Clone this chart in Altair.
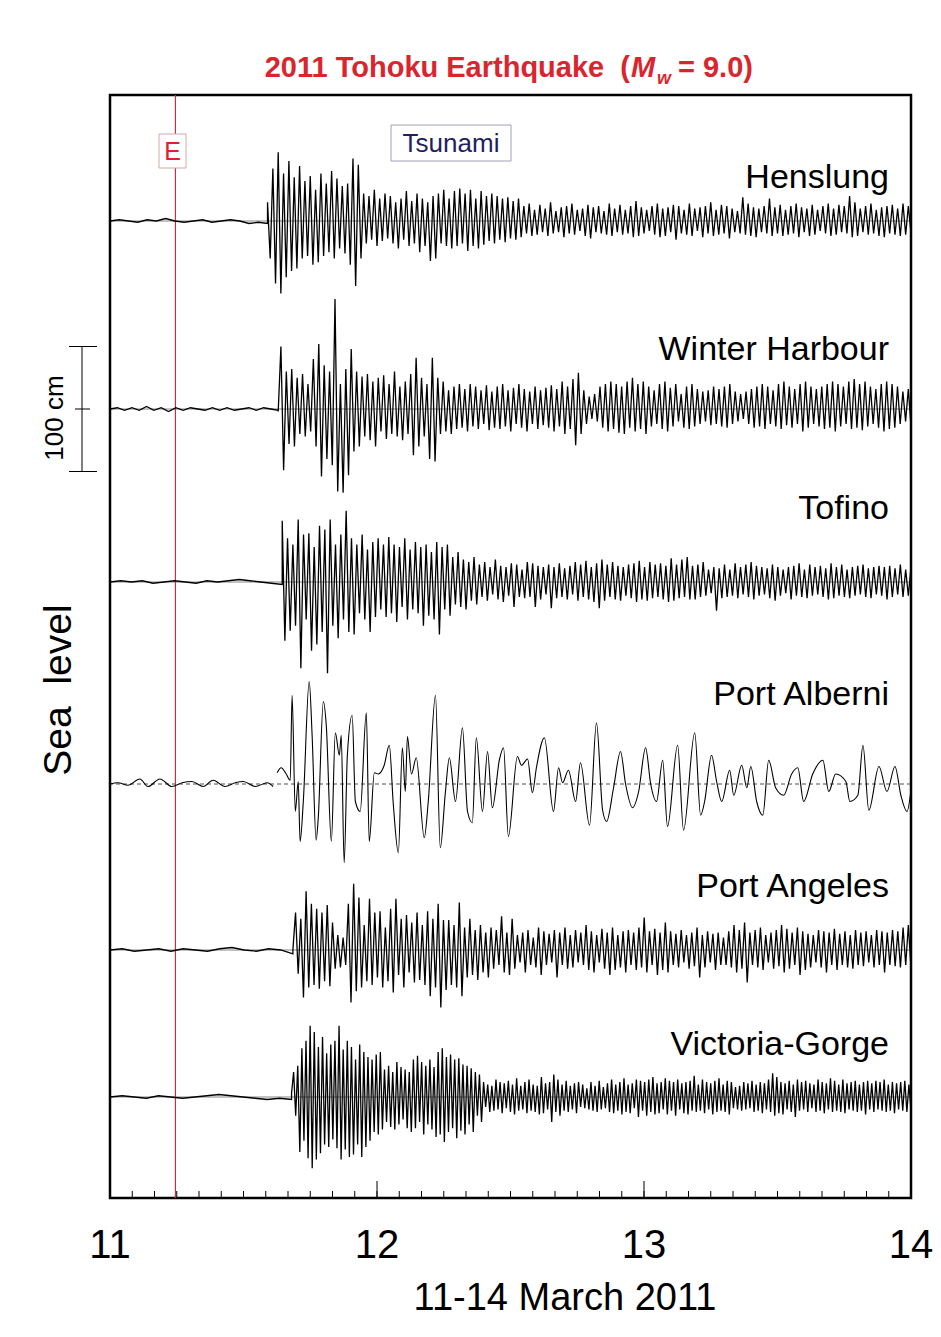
import altair as alt
import numpy as np
import pandas as pd

FONT = "Liberation Sans, Arial, Helvetica, sans-serif"
NB = "\u00a0"

# ---------------- data ----------------
stations = ["Henslung", "Winter Harbour", "Tofino", "Port Alberni", "Port Angeles", "Victoria-Gorge"]
baseline_cm = [781.6, 631.2, 492.8, 331.2, 198.4, 80.8]      # vertical offset of each record (cm)
arrival_day = [11.59, 11.63, 11.645, 11.626, 11.685, 11.68]  # first tsunami wave
event_day = 11.245                                           # earthquake origin time "E"
major_ticks = [11, 12, 13, 14]
minor_ticks = [11 + k / 12 for k in range(37)]

henslung_pre = [0, 1, 0, -1, 1, 0, 2, 0, -1, 0, 1, -1, 0, 1, 0, -2, -1, -2]
henslung_wave = [
    15, -30, 42, -50, 55, -58, 38, -45, 48, -40, 35, -38, 44,
    -30, 32, -28, 36, -35, 25, -33, 38, -28, 30, -25, 40, -30, 34, -22, 28, -26,
    30, -35, 50, -52, 45, -30,
    22, -18, 20, -15, 25, -20, 18, -16, 22, -14, 20, -18, 15, -22, 18, -15, 24, -20, 16, -18,
    22, -25, 18, -20, 15, -32, 20, -30, 22, -18, 25, -20, 18,
    -22, 24, -20, 26, -18, 22, -24, 25, -20, 18, -22, 24, -19, 20, -16, 22, -18, 20, -15, 18,
    -17, 19, -14, 16, -15, 18, -13,
    12, -10, 14, -12, 9, -11, 13, -9, 10, -12, 15, -10, 8, -9, 11, -13, 12, -10, 14, -11,
    9, -8, 10, -12, 13, -14, 11, -9, 12, -10, 8, -11, 14, -12, 10, -9, 13, -11, 9, -10,
    12, -13, 16, -12, 11, -10, 9, -8, 12, -11, 14, -13, 10, -12, 11, -9, 13, -15, 12, -10,
    9, -11, 14, -12, 10, -8, 11, -13, 12, -10, 15, -12, 9, -11, 13, -10, 12, -14, 10, -9,
    8, -10, 19, -11, 14, -12, 11, -13, 10, -9, 12, -10, 18, -12, 11, -10, 13, -12, 9, -11,
    12, -10, 14, -13, 11, -9, 10, -12, 13, -11, 9, -8, 12, -10, 14, -12, 10, -11, 13, -9,
    12, -10, 20, -13, 15, -12, 10, -9, 12, -11, 14, -10, 9, -12, 11, -13, 12, -10, 13, -11,
    10, -12, 14, -11, 12, -10,
]

winter_pre = [0, 1, -1, 1, -1, 2, -1, 1, -2, 1, -1, 1, 0, -1, 1, -1, 1, -1, 0, 1, -1, 1, 0, -1]
winter_wave = [
    -2, 50, -49, 30, -28, 32, -30, 25, -20, 28, -22,
    20, -18, 40, -30, 52, -54, 35, -40, 30, -45,
    88, -66, 20, -67, 32, -53, 48, -34, 30, -30,
    26, -22, 28, -25, 22, -30, 25, -18, 27, -24, 20, -20, 30, -22, 18, -25, 22, -20, 28, -37,
    41, -30, 25, -22, 20, -40, 41, -42, 25, -20, 22, -18, 15, -20, 18, -16, 20, -15,
    16, -18, 20, -14, 18, -16, 15, -12, 19, -17, 14, -15, 18, -16, 20, -14, 15, -18, 17, -12,
    20, -15, 16, -18, 14, -12, 18, -16, 15, -13, 17, -15, 19, -18, 16, -14, 22, -20, 18, -16,
    24, -29, 29, -20, 15,
    -12, 10, -8, 12, -10, 18, -15, 20, -18, 22, -16, 20, -19, 18, -20, 22, -15, 25, -18, 20,
    -16, 22, -20, 18, -14, 15, -12, 20, -16, 22, -18, 17, -14, 20, -10, 12, -15, 18, -16, 20,
    -14, 16, -12, 14, -10, 15, -13, 18, -12, 16, -14, 18, -15, 20, -12, 14, -10, 12, -8, 14,
    -12, 16, -15, 18, -14, 20, -16, 18, -12, 15, -14, 20, -16, 22, -13, 18, -15, 16, -12, 20,
    -18, 22, -15, 18, -12, 16, -14, 18, -16, 20, -15, 22, -18, 20, -14, 18, -12, 22, -16, 24,
    -15, 20, -17, 22, -14, 18, -12, 16, -15, 20, -18, 22, -16, 20, -15, 18, -12, 14, -10, 16,
    -14,
]

tofino_pre = [0, 1, 0, 1, -1, 0, 1, 0, -1, 1, 0, 1, 2, 1, 0, -1, -2]
tofino_wave = [
    49, -47, 35, -39, 30, -35, 50, -69, 38, -30, 39, -55, 28, -50, 45, -40, 42, -73, 50, -35,
    30, -45, 38, -30, 57, -40,
    35, -42, 30, -25, 38, -30, 26, -40, 32, -28, 35, -22, 30,
    -28, 36, -25, 30, -32, 28, -20, 35, -30, 26, -22, 32, -25, 28, -35, 30, -27, 24, -30, 32,
    -42, 28, -22, 30, -27, 20, -18, 24, -20, 18, -22, 16, -15, 20, -18,
    14, -12, 16, -15, 12, -10, 18, -14, 13, -16, 12, -11, 15, -20, 14, -12, 10, -13, 16, -12,
    15, -20, 13, -14, 12, -10, 14, -21, 12, -13, 15, -12, 11, -14, 13, -10, 16, -15, 14, -12,
    17, -14, 12, -16, 15, -21, 18, -15, 14, -12, 16, -14, 13, -15, 12, -11, 14, -13, 15, -16,
    17, -14, 12, -15, 16, -13, 14, -12, 15, -14, 13, -16, 19, -15, 14, -13, 18, -12, 20, -14,
    13, -14, 14, -12, 16, -11, 10, -9, 12, -23, 11, -13, 14, -12, 10, -11, 15, -13, 12, -10,
    14, -12, 16, -14, 13, -11, 12, -10, 11, -13, 14, -15, 12, -11, 10, -9, 12, -14, 13, -11,
    15, -12, 10, -13, 14, -11, 12, -10, 13, -12, 11, -14, 15, -13, 12, -11, 14, -12, 10, -13,
    12, -11, 13, -10, 14, -12, 11, -13, 12, -10, 13, -11, 12, -14, 13, -12, 11, -10, 14, -12,
    10, -11, 12,
]

alberni_pre_t = [11.000, 11.030, 11.067, 11.112, 11.142, 11.187, 11.232, 11.270, 11.307,
                 11.349, 11.386, 11.431, 11.469, 11.499, 11.544, 11.589, 11.611]
alberni_pre = [0, 1, -1, 4, -2, 4, -2, 1, 2, -2, 3, -2, 1, 2, -2, 1, -2]
alberni_t = [
    11.626, 11.641, 11.660, 11.675, 11.682, 11.694, 11.705, 11.712, 11.724, 11.746,
    11.757, 11.772, 11.780, 11.799, 11.810, 11.829, 11.844, 11.859, 11.866, 11.877,
    11.889, 11.907, 11.919, 11.937, 11.960, 11.971, 11.990, 12.005, 12.027, 12.046,
    12.061, 12.080, 12.095, 12.106, 12.114, 12.129, 12.147, 12.177, 12.192, 12.219,
    12.237, 12.256, 12.271, 12.294, 12.320, 12.339, 12.357, 12.372, 12.395, 12.414,
    12.432, 12.459, 12.474, 12.492, 12.526, 12.541, 12.564, 12.582, 12.597, 12.627,
    12.661, 12.680, 12.695, 12.717, 12.744, 12.762, 12.796, 12.822, 12.845, 12.860,
    12.886, 12.912, 12.931, 12.957, 12.980, 13.006, 13.025, 13.047, 13.070, 13.088,
    13.126, 13.148, 13.190, 13.212, 13.227, 13.253, 13.272, 13.291, 13.321, 13.336,
    13.366, 13.385, 13.400, 13.422, 13.445, 13.467, 13.493, 13.523, 13.553, 13.576,
    13.598, 13.632, 13.670, 13.692, 13.718, 13.756, 13.771, 13.801, 13.820, 13.842,
    13.880, 13.910, 13.940, 13.962, 13.985, 14.000,
]
alberni_wave = [
    9, 13, 8, 3, 71, -22, 2, -46, -14, 82,
    39, -45, -27, 66, 47, -46, 41, 23, 39, -63,
    23, 55, -14, -22, 57, -46, 9, 8, 15, 31,
    -16, -55, 29, -6, 38, 8, 21, -43, -14, 71,
    -51, -7, 21, -14, 45, -22, -31, 37, -22, 26,
    -19, 20, 29, -42, 22, 15, 20, -7, 13, 37,
    -22, 13, 1, 11, -14, 17, -33, 49, -21, -30,
    -3, 26, 0, -19, -6, 29, 0, -14, 19, -34,
    31, -37, 41, -25, -14, 23, 2, -14, 11, -9,
    15, -3, 14, -14, -25, 19, -3, -9, 8, 13,
    -14, 8, 19, -6, 8, 2, -14, -9, 31, -21,
    14, -6, 14, -9, -22, -5,
]

angeles_pre = [0, 1, -1, 0, 1, -1, 1, 0, -1, 1, 2, 0, -1, 1, 0, -3]
angeles_wave = [
    0, 30, -19, 25, -38, 47,
    -30, 37, -28, 33, -31, 30, -25, 36, -29, 22, -15, 12, -14, 10, -12,
    37, -42, 53, -33, 42, -30, 20, -25, 41, -28, 30, -22, 31, -30, 18, -25, 33, -34, 41, -20,
    25, -30, 28, -18, 22, -26, 30, -24, 20, -28,
    31, -37, 25, -30, 37, -46, 24, -32, 24, -28, 20, -30, 38, -37, 18, -22, 25, -20, 16, -24,
    20, -18, 14, -22, 18, -15,
    16, -12, 27, -18, 14, -20, 25, -15, 12, -10, 14, -18, 16, -12, 10, -14, 18, -20, 15, -12,
    13, -10, 16, -22, 14, -12, 18, -15, 12, -14, 16, -10, 14, -12, 20, -16, 15, -18, 12, -10,
    17, -15, 14, -20, 18, -16, 12, -14, 15, -18, 16, -12, 14, -16, 18, -14, 26, -18, 15, -12,
    17, -20, 14, -16, 22, -18, 15, -12, 13, -14, 16, -10, 12, -15, 14, -13, 18, -22, 12, -14,
    15, -10, 13, -16, 14, -12, 10, -12, 15, -14, 20, -18, 16, -15, 22, -26, 14, -12, 16, -14,
    18, -16, 12, -10, 14, -15, 16, -13, 20, -18, 17, -15, 14, -12, 18, -20, 15, -16, 13, -14,
    12, -10, 16, -14, 15, -18, 14, -12, 17, -16, 13, -12, 15, -14, 12, -15, 16, -12, 14, -13,
    15, -10, 12, -14, 16, -12, 15, -18, 14, -12, 16, -13, 15, -14, 18, -12, 20, -15,
]

victoria_pre = [0, 1, 0, -1, 1, 0, -1, 0, 1, 2, 1, 0, -1, -2, -1, -2]
victoria_wave = [
    3, 20, -15, 25, -44,
    39, -35, 45, -49, 57, -57, 52, -50, 40, -45, 48, -38, 35, -40, 42, -34, 45, -41, 57, -50,
    38, -42, 45, -48, 40, -46, 30, -38, 42, -48, 36, -40, 32, -35, 30, -28, 34, -30, 36, -26,
    22, -20, 25, -24, 20, -26, 28, -22, 24, -18, 22, -25, 20,
    -28, 30, -25, 33, -20, 28, -30, 25, -22, 30, -26, 24, -32, 36, -30, 39, -36, 32, -28, 34,
    -25, 30, -33, 31, -27, 26, -30, 25, -22, 23, -28, 20, -15, 18, -20, 12,
    -8, 10, -12, 9, -11, 14, -10, 12, -13, 11, -9, 13, -12, 10, -14, 15, -11, 9, -10, 12,
    -13, 14, -11, 10, -12, 9, -14, 16, -13, 11, -10, 12, -20, 18, -12, 14, -15, 10, -11, 13,
    -12, 9, -10, 11, -13, 12, -8, 10, -9, 7, -10, 12, -11, 9, -12, 13, -10, 8, -9, 11,
    -12, 14, -13, 10, -11, 12, -14, 15, -12, 10, -13, 11, -9, 14, -16, 13, -11, 12, -15, 14,
    -12, 16, -14, 11, -13, 12, -10, 15, -14, 13, -11, 12, -15, 14, -10, 11, -13, 12, -14, 13,
    -11, 17, -12, 10, -11, 14, -13, 12, -10, 11, -14, 13, -12, 15, -11, 10, -12, 13, -14, 12,
    -9, 8, -10, 9, -11, 12, -10, 11, -9, 13, -12, 10, -11, 12, -13, 11, -10, 14, -12, 19,
    -15, 16, -13, 12, -14, 11, -10, 13, -12, 10, -16, 14, -11, 12, -10, 13, -12, 11, -9, 10,
    -12, 14, -11, 12, -13, 11, -10, 15, -12, 13, -11, 10, -12, 14, -13, 11, -10, 12, -11, 13,
    -12, 10, -11, 12, -14, 13, -10, 11, -12, 13, -10, 12, -11, 14, -12, 10, -11, 12, -13, 11,
    -10, 12, -11, 13, -12, 10, -11,
]

# layout constants (pixels above each record's zero line for its name)
label_px_above = [33, 49, 63, 79, 53, 42]
PX_PER_CM = 1.25
W, H = 801, 1103
Y_TOP = H / PX_PER_CM

# ---------------- build tables ----------------
rows = []


def add_uniform(name, base, pre, wave, t0):
    tp = np.linspace(11.0, t0, len(pre))
    tw = np.linspace(t0, 14.0, len(wave))
    for t, v in zip(tp, pre):
        rows.append((name, 0, float(t), base + v))
    for t, v in zip(tw, wave):
        rows.append((name, 1, float(t), base + v))


add_uniform("Henslung", baseline_cm[0], henslung_pre, henslung_wave, arrival_day[0])
add_uniform("Winter Harbour", baseline_cm[1], winter_pre, winter_wave, arrival_day[1])
add_uniform("Tofino", baseline_cm[2], tofino_pre, tofino_wave, arrival_day[2])
add_uniform("Port Angeles", baseline_cm[4], angeles_pre, angeles_wave, arrival_day[4])
add_uniform("Victoria-Gorge", baseline_cm[5], victoria_pre, victoria_wave, arrival_day[5])
dense = pd.DataFrame(rows, columns=["station", "seg", "t", "y"])
dense["order"] = range(len(dense))

alb_rows = [("Port Alberni", 0, t, baseline_cm[3] + v) for t, v in zip(alberni_pre_t, alberni_pre)]
alb_rows += [("Port Alberni", 1, t, baseline_cm[3] + v) for t, v in zip(alberni_t, alberni_wave)]
alberni = pd.DataFrame(alb_rows, columns=["station", "seg", "t", "y"])

base_df = pd.DataFrame({"station": stations, "y": baseline_cm})
label_df = pd.DataFrame({
    "station": stations,
    "y": [b + p / PX_PER_CM for b, p in zip(baseline_cm, label_px_above)],
})

xscale = alt.Scale(domain=[11, 14], nice=False, zero=False)
yscale = alt.Scale(domain=[0, Y_TOP], nice=False, zero=False)

# ---------------- layers ----------------
base_solid = alt.Chart(base_df[base_df.station != "Port Alberni"]).mark_rule(
    color="#333333", strokeWidth=0.6
).encode(y=alt.Y("y:Q", scale=yscale, axis=None))

base_dash = alt.Chart(base_df[base_df.station == "Port Alberni"]).mark_rule(
    color="#222222", strokeWidth=0.8, strokeDash=[4, 3]
).encode(y=alt.Y("y:Q", scale=yscale, axis=None))

event_line = alt.Chart(pd.DataFrame({"t": [event_day]})).mark_rule(
    color="#b03a48", strokeWidth=1.2
).encode(x=alt.X("t:Q", scale=xscale, axis=None))

traces = alt.Chart(dense).mark_line(color="black", strokeWidth=1.3).encode(
    x=alt.X("t:Q", scale=xscale, axis=None),
    y=alt.Y("y:Q", scale=yscale, axis=None),
    detail="station:N",
    order="order:Q",
)

alb_line = alt.Chart(alberni).mark_line(color="black", strokeWidth=1.1, interpolate="monotone").encode(
    x=alt.X("t:Q", scale=xscale, axis=None),
    y=alt.Y("y:Q", scale=yscale, axis=None),
    detail="seg:N",
)

minor = alt.Chart(pd.DataFrame({"t": minor_ticks})).mark_rule(color="black", strokeWidth=1).encode(
    x=alt.X("t:Q", scale=xscale, axis=None), y=alt.value(H), y2=alt.value(H - 7)
)
major = alt.Chart(pd.DataFrame({"t": major_ticks})).mark_rule(color="black", strokeWidth=1).encode(
    x=alt.X("t:Q", scale=xscale, axis=None), y=alt.value(H), y2=alt.value(H - 17)
)
tick_labels = alt.Chart(pd.DataFrame({"t": major_ticks})).mark_text(
    font=FONT, fontSize=40, color="black", align="center", baseline="alphabetic"
).encode(
    x=alt.X("t:Q", scale=xscale, axis=None), y=alt.value(1163), text=alt.Text("t:Q", format="d")
)

station_text = alt.Chart(label_df).mark_text(
    align="right", baseline="alphabetic", font=FONT, fontSize=34, color="black"
).encode(x=alt.value(779), y=alt.Y("y:Q", scale=yscale, axis=None), text="station:N")

one = pd.DataFrame({"k": [0]})

e_box = alt.Chart(one).mark_rect(fill="white", stroke="#d4a8a8", strokeWidth=1).encode(
    x=alt.value(49), x2=alt.value(76), y=alt.value(39), y2=alt.value(73)
)
e_text = alt.Chart(pd.DataFrame({"s": ["E"]})).mark_text(
    font=FONT, fontSize=25, color="#e0202a", align="center", baseline="middle"
).encode(x=alt.value(62.5), y=alt.value(57), text="s:N")

ts_box = alt.Chart(one).mark_rect(fill="white", stroke="#a0a0b4", strokeWidth=1).encode(
    x=alt.value(281), x2=alt.value(401), y=alt.value(30), y2=alt.value(66)
)
ts_text = alt.Chart(pd.DataFrame({"s": ["Tsunami"]})).mark_text(
    font=FONT, fontSize=26, color="#1f1f5e", align="center", baseline="middle"
).encode(x=alt.value(341), y=alt.value(49), text="s:N")

RED = "#d9262e"
t1 = alt.Chart(pd.DataFrame({"s": ["2011 Tohoku Earthquake" + NB + NB + "("]})).mark_text(
    font=FONT, fontSize=29, fontWeight="bold", color=RED, align="right", baseline="alphabetic"
).encode(x=alt.value(520), y=alt.value(-18), text="s:N")
t2 = alt.Chart(pd.DataFrame({"s": ["M"]})).mark_text(
    font=FONT, fontSize=29, fontWeight="bold", fontStyle="italic", color=RED, align="left",
    baseline="alphabetic"
).encode(x=alt.value(521), y=alt.value(-18), text="s:N")
t3 = alt.Chart(pd.DataFrame({"s": ["w"]})).mark_text(
    font=FONT, fontSize=18, fontStyle="italic", fontWeight="bold", color=RED, align="left",
    baseline="alphabetic"
).encode(x=alt.value(547), y=alt.value(-11), text="s:N")
t4 = alt.Chart(pd.DataFrame({"s": ["= 9.0)"]})).mark_text(
    font=FONT, fontSize=29, fontWeight="bold", color=RED, align="left", baseline="alphabetic"
).encode(x=alt.value(568), y=alt.value(-18), text="s:N")

xtitle = alt.Chart(pd.DataFrame({"s": ["11-14 March 2011"]})).mark_text(
    font=FONT, fontSize=38, color="black", align="center", baseline="alphabetic"
).encode(x=alt.value(455), y=alt.value(1215), text="s:N")

sea = alt.Chart(pd.DataFrame({"s": ["Sea" + NB + NB + "level"]})).mark_text(
    font=FONT, fontSize=39, color="black", angle=270, align="center", baseline="middle"
).encode(x=alt.value(-51), y=alt.value(595), text="s:N")

cm_text = alt.Chart(pd.DataFrame({"s": ["100 cm"]})).mark_text(
    font=FONT, fontSize=26, color="black", angle=270, align="center", baseline="middle"
).encode(x=alt.value(-55), y=alt.value(323), text="s:N")

bar_ends = pd.DataFrame({"y": [baseline_cm[1] - 50, baseline_cm[1] + 50]})
bar_caps = alt.Chart(bar_ends).mark_rule(color="black", strokeWidth=1).encode(
    x=alt.value(-41), x2=alt.value(-13), y=alt.Y("y:Q", scale=yscale, axis=None)
)
bar_vert = alt.Chart(pd.DataFrame({"y1": [baseline_cm[1] - 50], "y2": [baseline_cm[1] + 50]})).mark_rule(
    color="black", strokeWidth=1
).encode(x=alt.value(-28), y=alt.Y("y1:Q", scale=yscale, axis=None), y2="y2:Q")
bar_mid = alt.Chart(pd.DataFrame({"y": [baseline_cm[1]]})).mark_rule(color="black", strokeWidth=1).encode(
    x=alt.value(-35), x2=alt.value(-20), y=alt.Y("y:Q", scale=yscale, axis=None)
)

chart = alt.layer(
    base_solid, base_dash, event_line, traces, alb_line, minor, major, tick_labels, station_text,
    e_box, e_text, ts_box, ts_text, t1, t2, t3, t4, xtitle, sea, cm_text,
    bar_caps, bar_vert, bar_mid,
).properties(
    width=W, height=H,
    padding={"left": 102, "top": 87, "right": 22, "bottom": 131},
    autosize=alt.AutoSizeParams(type="none"),
    background="white",
).configure_view(
    stroke="black", strokeWidth=2.5
).configure_axis(
    grid=False
)

chart.save("out.html", embed_options={"renderer": "svg", "actions": False})
